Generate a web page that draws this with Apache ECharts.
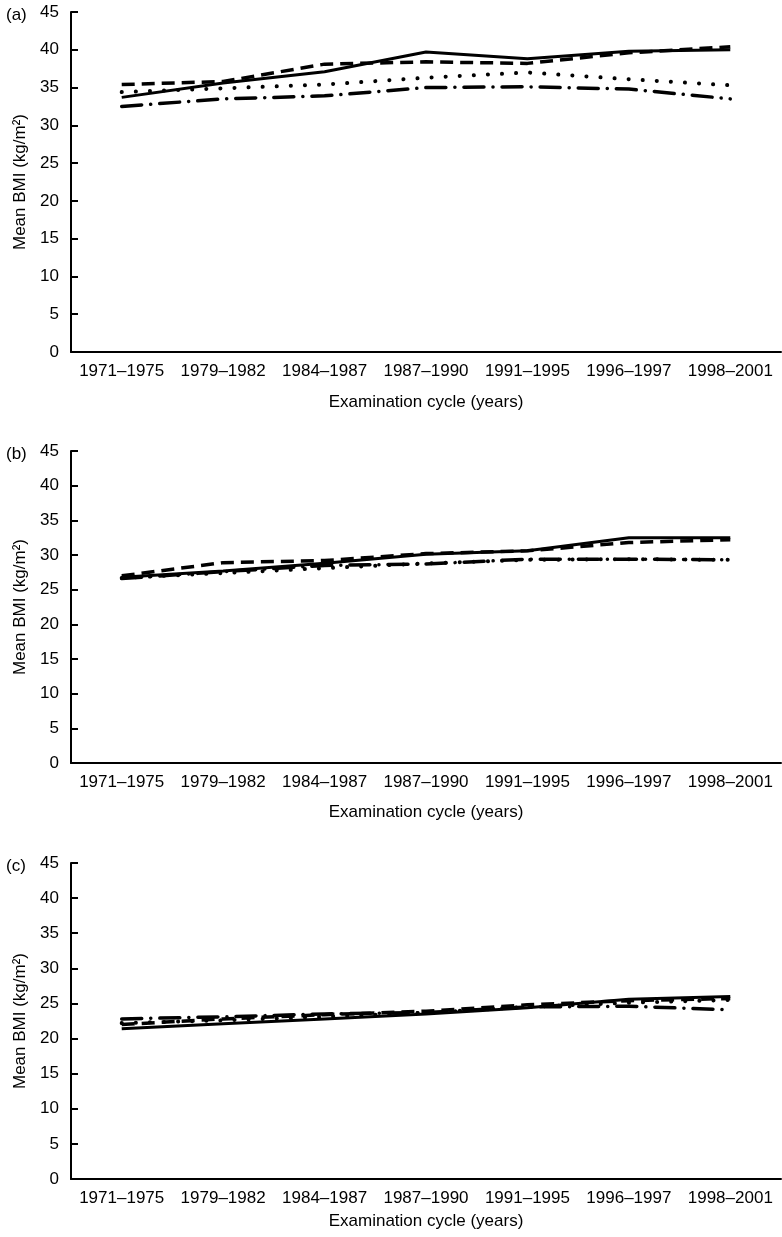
<!DOCTYPE html>
<html>
<head>
<meta charset="utf-8">
<script src="https://cdn.jsdelivr.net/npm/echarts@6/dist/echarts.min.js"></script>
<style>
  html, body { margin: 0; padding: 0; background: #fff; }
  #chart { width: 782px; height: 1237px; }
</style>
</head>
<body>
<div id="chart"></div>
<script>
// examination cycles on the x axis
var cycles = ['1971–1975', '1979–1982', '1984–1987', '1987–1990', '1991–1995', '1996–1997', '1998–2001'];
var panelLabels = ['(a)', '(b)', '(c)'];

// panel (a)
var solidA = [33.7, 35.6, 37.1, 39.7, 38.8, 39.8, 40.0];
var dashA = [35.4, 35.8, 38.1, 38.4, 38.2, 39.6, 40.4];
var dotA = [34.4, 34.9, 35.4, 36.3, 37.0, 36.1, 35.3];
var dashDotA = [32.5, 33.5, 33.9, 35.0, 35.1, 34.8, 33.5];

// panel (b)
var solidB = [26.8, 27.7, 28.8, 30.1, 30.6, 32.5, 32.5];
var dashB = [27.0, 28.9, 29.2, 30.2, 30.6, 31.8, 32.2];
var dotB = [26.7, 27.4, 28.1, 28.8, 29.3, 29.4, 29.3];
var dashDotB = [26.6, 27.6, 28.5, 28.7, 29.4, 29.4, 29.3];

// panel (c)
var solidC = [21.4, 22.1, 22.8, 23.5, 24.4, 25.6, 26.0];
var dashC = [22.0, 22.8, 23.4, 23.9, 24.8, 25.4, 25.7];
var dotC = [22.2, 22.6, 23.1, 23.7, 24.5, 25.1, 25.5];
var dashDotC = [22.8, 23.1, 23.5, 23.7, 24.5, 24.6, 24.1];

var myChart = echarts.init(document.getElementById('chart'));
var font = 'Liberation Sans, Arial, sans-serif';

var grids = [
    {left: 71, width: 710, top: 12, height: 340},
    {left: 71, width: 710, top: 451, height: 312},
    {left: 71, width: 710, top: 863, height: 316}
];
var nameGaps = [42, 41, 34];

var xAxes = [], yAxes = [], series = [], titles = [];
var panels = [
    [solidA, dashA, dotA, dashDotA],
    [solidB, dashB, dotB, dashDotB],
    [solidC, dashC, dotC, dashDotC]
];
var styles = [
    {type: 'solid', width: 3},
    {type: [13, 7], width: 3.5},
    {type: [0.1, 14], width: 4, cap: 'round'},
    {type: [20, 9, 0.1, 9], width: 3.5, cap: 'round'}
];

for (var i = 0; i < 3; i++) {
    xAxes.push({
        type: 'category',
        gridIndex: i,
        data: cycles,
        boundaryGap: true,
        name: 'Examination cycle (years)',
        nameLocation: 'middle',
        nameGap: nameGaps[i],
        nameTextStyle: {color: '#000', fontSize: 17, fontFamily: font},
        axisLine: {lineStyle: {color: '#000', width: 2}},
        axisTick: {inside: true, length: 7, lineStyle: {color: '#000', width: 2}},
        axisLabel: {color: '#000', fontSize: 17, fontFamily: font, margin: 11, interval: 0}
    });
    yAxes.push({
        type: 'value',
        gridIndex: i,
        min: 0,
        max: 45,
        interval: 5,
        name: 'Mean BMI (kg/m²)',
        nameLocation: 'middle',
        nameGap: 42,
        nameRotate: 90,
        nameTextStyle: {color: '#000', fontSize: 17, fontFamily: font},
        splitLine: {show: false},
        axisLine: {show: true, lineStyle: {color: '#000', width: 2}},
        axisTick: {show: true, inside: true, length: 7, lineStyle: {color: '#000', width: 2}},
        axisLabel: {color: '#000', fontSize: 17, fontFamily: font, margin: 12}
    });
    titles.push({
        text: panelLabels[i],
        left: 1,
        top: grids[i].top - 10,
        textStyle: {color: '#000', fontSize: 17, fontWeight: 'normal', fontFamily: font}
    });
    for (var s = 0; s < 4; s++) {
        series.push({
            type: 'line',
            xAxisIndex: i,
            yAxisIndex: i,
            data: panels[i][s],
            showSymbol: false,
            symbol: 'none',
            lineStyle: Object.assign({color: '#000'}, styles[s]),
            z: 4 - s
        });
    }
}

var option = {
    animation: false,
    backgroundColor: '#fff',
    title: titles,
    grid: grids,
    xAxis: xAxes,
    yAxis: yAxes,
    series: series
};

myChart.setOption(option);
</script>
</body>
</html>
